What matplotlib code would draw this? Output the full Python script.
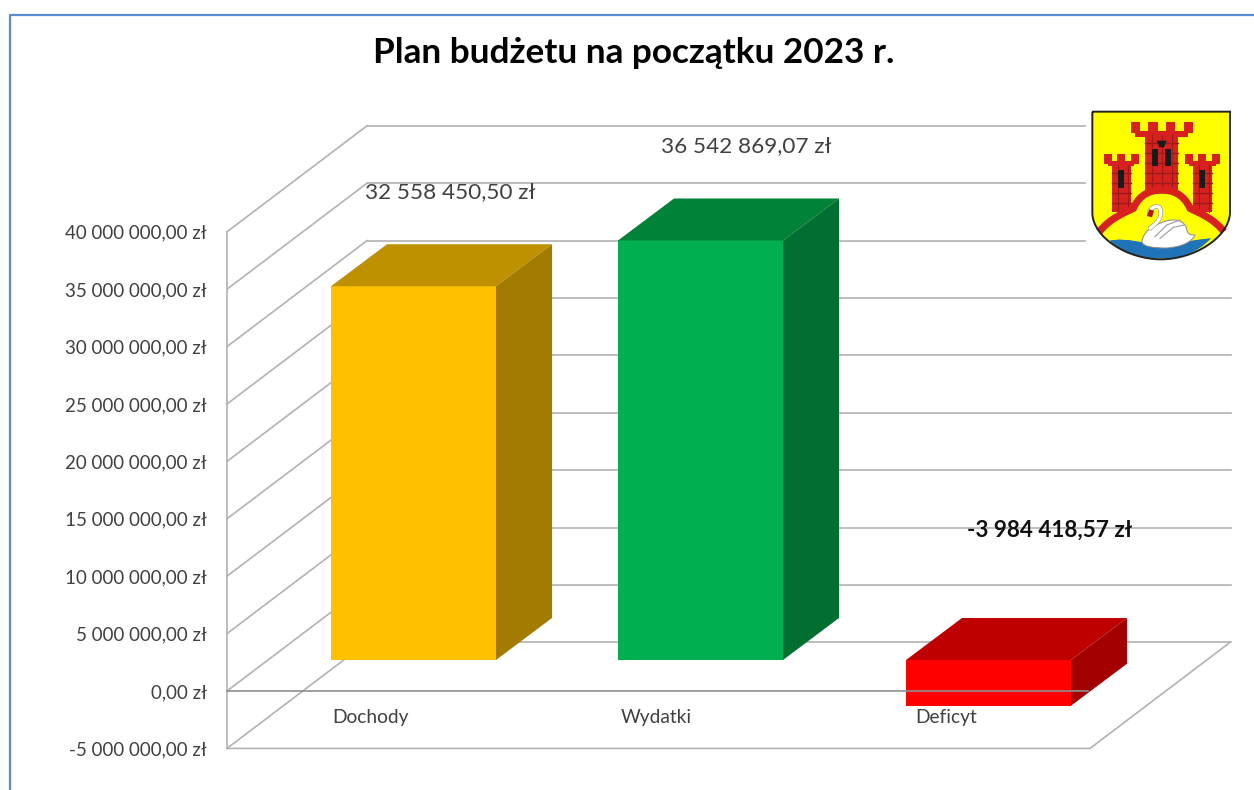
import matplotlib
matplotlib.use('Agg')
import matplotlib.pyplot as plt
from matplotlib.patches import Polygon, Rectangle, PathPatch
from matplotlib.path import Path

plt.rcParams['font.family'] = ['Lato', 'DejaVu Sans']

# data
categories = ['Dochody', 'Wydatki', 'Deficyt']
values = [32558450.50, 36542869.07, -3984418.57]
value_labels = ['32 558 450,50 zł', '36 542 869,07 zł', '-3 984 418,57 zł']
ticks = [-5000000, 0, 5000000, 10000000, 15000000, 20000000, 25000000, 30000000, 35000000, 40000000]
tick_labels = ['-5 000 000,00 zł', '0,00 zł', '5 000 000,00 zł', '10 000 000,00 zł', '15 000 000,00 zł',
               '20 000 000,00 zł', '25 000 000,00 zł', '30 000 000,00 zł', '35 000 000,00 zł', '40 000 000,00 zł']

W, H = 1254, 790
PX_PER_ZL = 57.4 / 5000000   # vertical scale of the value axis
ZERO_PX = 691                # row of the value 0 on the front plane
GRID = '#b2b2b2'
TEXT = '#404040'

fig = plt.figure(figsize=(W / 100, H / 100), dpi=100, facecolor='white')
ax = fig.add_axes([0, 0, 1, 1])
ax.set_xlim(0, W)
ax.set_ylim((ZERO_PX - H) / PX_PER_ZL, ZERO_PX / PX_PER_ZL)
ax.patch.set_visible(False)


def up(px):
    # vertical pixel offset of the fake 3d shear, in axis units
    return px / PX_PER_ZL


def face(pts, color, z):
    ax.add_patch(Polygon(pts, closed=True, facecolor=color, edgecolor='none', zorder=z))


def box(x, v, w, front, top, side):
    dx, dy = 56, up(42)
    base = up(31)
    y0, y1 = base + min(v, 0), base + max(v, 0)
    face([(x, y0), (x + w, y0), (x + w, y1), (x, y1)], front, 4)
    face([(x, y1), (x + w, y1), (x + w + dx, y1 + dy), (x + dx, y1 + dy)], top, 4)
    face([(x + w, y0), (x + w + dx, y0 + dy), (x + w + dx, y1 + dy), (x + w, y1)], side, 4)


# left axis, real ticks on a spine moved to the wall corner
for s in ['top', 'right', 'bottom']:
    ax.spines[s].set_visible(False)
ax.spines['left'].set_position(('data', 227))
ax.spines['left'].set_bounds(ticks[0], ticks[-1])
ax.spines['left'].set_color(GRID)
ax.spines['left'].set_linewidth(1.2)
ax.xaxis.set_visible(False)
ax.set_yticks(ticks)
ax.set_yticklabels(tick_labels)
ax.tick_params(axis='y', length=0, pad=14.4, labelsize=13.5, labelcolor=TEXT)

# wall and floor lines
depth_x, depth_y = 140, up(106)
for t in ticks:
    ax.plot([227, 227 + depth_x], [t, t + depth_y], color=GRID, lw=1.2, zorder=2)
    ax.plot([227 + depth_x, 1231], [t + depth_y, t + depth_y], color=GRID, lw=1.2, zorder=2)
ax.plot([227, 1090, 1090 + depth_x], [ticks[0], ticks[0], ticks[0] + depth_y], color=GRID, lw=1.2, zorder=2)
ax.plot([227, 1088], [0, 0], color='#8f8f8f', lw=1.2, zorder=5)

# bars
bar_x = [331, 618, 906]
bar_w = 165
colors = [('#ffc000', '#bf9000', '#a37b00'),
          ('#00b050', '#008238', '#006f31'),
          ('#ff0000', '#bf0000', '#a30000')]
for x, v, c in zip(bar_x, values, colors):
    box(x, v, bar_w, c[0], c[1], c[2])

# labels
for x, name in zip([332, 621, 915], categories):
    ax.text(x, up(ZERO_PX - 718), name, ha='left', va='center', fontsize=13.8, color=TEXT, zorder=6)
label_pos = [(450, 192), (746, 146), (1050, 530)]
for (x, y), txt, v in zip(label_pos, value_labels, values):
    ax.text(x, up(ZERO_PX - y), txt, ha='center', va='center', zorder=6,
            fontsize=16.2, color='#101010' if v < 0 else TEXT, fontweight='bold' if v < 0 else 'normal')
ax.text(634, up(ZERO_PX - 53), 'Plan budżetu na początku 2023 r.', ha='center', va='center',
        fontsize=25.3, fontweight='bold', color='black', zorder=6)

# blue frame of the chart object
ax.plot([10, 10, W], [up(ZERO_PX - H), up(ZERO_PX - 15), up(ZERO_PX - 15)], color='#5b8bd0', lw=1.6, zorder=7)

# coat of arms, drawn in its own axes in crop units
lg = fig.add_axes([1060 / W, 1 - 280 / H, 180 / W, 190 / H])
lg.set_xlim(0, 540)
lg.set_ylim(570, 0)
lg.axis('off')

RED = '#d8201e'
DARK = '#9c1a18'
C = Path.CURVE4
L = Path.LINETO
M = Path.MOVETO
lg.add_patch(Rectangle((78, 0), 462, 570, facecolor='white', edgecolor='none', zorder=0))

shield = Path([(97, 65), (510, 65), (510, 370), (505, 445), (400, 508), (303, 508), (205, 508), (100, 445), (97, 370), (97, 65)],
              [M, L, L, C, C, C, C, C, C, L])
lg.add_patch(PathPatch(shield, facecolor='#ffff00', edgecolor='none', zorder=2))

water = Path([(150, 452), (200, 442), (250, 462), (300, 462), (360, 462), (400, 450), (452, 445),
              (410, 490), (360, 505), (303, 505), (240, 505), (190, 490), (150, 452)],
             [M, C, C, C, C, C, C, C, C, C, C, C, C])
lg.add_patch(PathPatch(water, facecolor='#1f74b8', edgecolor='none', zorder=3))

# towers
for x0, x1, y0, y1 in [(155, 212, 225, 365), (398, 455, 225, 365), (255, 355, 135, 310)]:
    lg.add_patch(Rectangle((x0, y0), x1 - x0, y1 - y0, facecolor=RED, edgecolor='none', zorder=3))
    for yy in range(y0 + 24, y1, 30):
        lg.plot([x0, x1], [yy, yy], color=DARK, lw=1.0, zorder=3.1)
    for xx in range(x0 + 20, x1, 30):
        lg.plot([xx, xx], [y0, y1], color=DARK, lw=0.8, zorder=3.1)
for x0, x1, y0, y1 in [(145, 222, 212, 228), (388, 468, 212, 228), (225, 385, 122, 140)]:
    lg.add_patch(Rectangle((x0, y0), x1 - x0, y1 - y0, facecolor=RED, edgecolor='none', zorder=3))
for x0, y0, w, h in [(132, 192, 24, 30), (172, 192, 24, 30), (212, 192, 24, 30),
                     (375, 192, 24, 30), (415, 192, 24, 30), (455, 192, 24, 30),
                     (212, 95, 28, 34), (265, 95, 28, 34), (318, 95, 28, 34), (371, 95, 28, 34)]:
    lg.add_patch(Rectangle((x0, y0), w, h, facecolor=RED, edgecolor='none', zorder=3.2))

# windows
for x0, x1, y0, y1 in [(174, 193, 240, 295), (416, 436, 240, 295), (276, 295, 178, 228), (315, 334, 178, 228)]:
    lg.add_patch(Rectangle((x0, y0), x1 - x0, y1 - y0, facecolor='#1a1a1a', edgecolor='none', zorder=3.3))
lg.add_patch(Polygon([(290, 152), (320, 152), (312, 172), (298, 172)], facecolor='#1a1a1a', edgecolor='none', zorder=3.3))

# arch over the swan, yellow inside it
inner = Path([(125, 430), (160, 390), (195, 375), (225, 360), (245, 320), (275, 310), (305, 310),
              (335, 310), (365, 320), (385, 360), (415, 375), (450, 390), (485, 430), (303, 470), (125, 430)],
             [M, C, C, C, C, C, C, C, C, C, C, C, C, L, L])
lg.add_patch(PathPatch(inner, facecolor='#ffff00', edgecolor='none', zorder=3.4))
arch = Path([(118, 425), (150, 385), (190, 370), (220, 355), (240, 310), (275, 300), (305, 300),
             (335, 300), (370, 310), (390, 355), (420, 370), (460, 385), (492, 425)],
            [M, C, C, C, C, C, C, C, C, C, C, C, C])
lg.add_patch(PathPatch(arch, facecolor='none', edgecolor=RED, lw=5.2, zorder=3.5, capstyle='butt'))
lg.add_patch(PathPatch(water, facecolor='#1f74b8', edgecolor='none', zorder=3.6))

# swan
body = Path([(246, 455), (250, 425), (275, 410), (300, 400), (330, 385), (365, 385), (378, 410),
             (382, 425), (380, 435), (405, 435), (395, 455), (370, 470), (320, 474), (280, 474), (248, 470), (246, 455)],
            [M] + [C] * 15)
lg.add_patch(PathPatch(body, facecolor='white', edgecolor='#8a8a8a', lw=0.7, zorder=4))
neck = Path([(270, 415), (290, 400), (312, 380), (298, 352), (285, 345), (272, 355), (268, 368)],
            [M, C, C, C, C, C, C])
lg.add_patch(PathPatch(neck, facecolor='none', edgecolor='#8a8a8a', lw=3.2, zorder=4.1, capstyle='round'))
lg.add_patch(PathPatch(neck, facecolor='none', edgecolor='white', lw=2.4, zorder=4.2, capstyle='round'))
lg.add_patch(Polygon([(260, 378), (268, 358), (282, 362), (276, 382)], facecolor='#b01818', edgecolor='none', zorder=4.3))
lg.plot([285, 320, 360], [440, 405, 390], color='#9a9a9a', lw=0.8, zorder=4.4)
lg.plot([300, 340, 372], [445, 412, 405], color='#9a9a9a', lw=0.8, zorder=4.4)

# shield outline last, over the filling
lg.add_patch(PathPatch(shield, facecolor='none', edgecolor='#222222', lw=1.4, zorder=5))

fig.savefig('out.png', dpi=100)
